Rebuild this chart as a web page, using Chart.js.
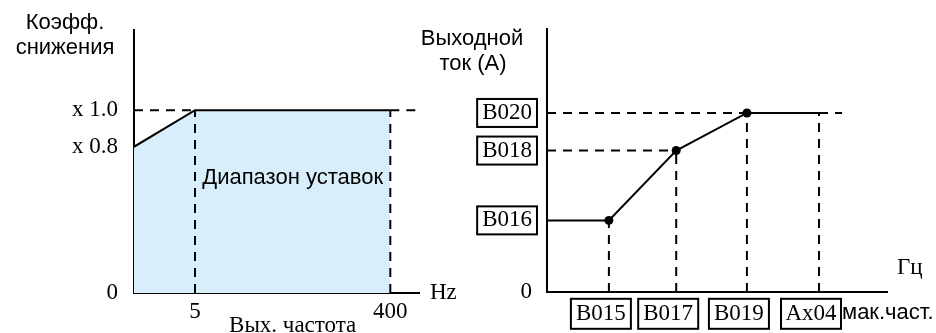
<!DOCTYPE html>
<html>
<head>
<meta charset="utf-8">
<script src="https://cdn.jsdelivr.net/npm/chart.js@4/dist/chart.umd.min.js"></script>
<style>
  body { margin: 0; background: #fff; }
  #wrap { position: relative; width: 936px; height: 333px; overflow: hidden; }
  canvas { position: absolute; top: 0; }
  #derate-chart { left: 0; }
  #current-chart { left: 400px; }
</style>
</head>
<body>
<div id="wrap">
  <canvas id="derate-chart" width="470" height="333"></canvas>
  <canvas id="current-chart" width="536" height="333"></canvas>
</div>
<script>
// ---- left chart data (x axis is schematic, not to scale) ----
var derateX = [0, 1, 4.2];          // start, 5 Hz, 400 Hz
var derateY = [0.8, 1.0, 1.0];
var derateXTicks = [1, 4.2];
var derateXLabels = ['5', '400'];
var derateYTicks = [0, 0.8, 1.0];
var derateYLabels = ['0', 'x 0.8', 'x 1.0'];

// ---- right chart data ----
var curX = [0, 0.91, 1.9, 2.94, 4.0];
var curY = [0.4, 0.4, 0.79, 1.0, 1.0];
var curXTicks = [0.91, 1.9, 2.94, 4.0];
var curXLabels = ['B015', 'B017', 'B019', 'Ax04'];
var curYTicks = [0, 0.4, 0.79, 1.0];
var curYLabels = ['0', 'B016', 'B018', 'B020'];

var SERIF = '"Liberation Serif", "Times New Roman", serif';
var SANS = '"Liberation Sans", Arial, sans-serif';
var SERIF_SIZE = 23;
var SANS_SIZE = 22;
var DASH = [9, 7];

function pts(xs, ys) {
    return xs.map(function (x, i) { return {x: x, y: ys[i]}; });
}
function guide(data) {
    return {data: data, borderColor: '#000', borderWidth: 2, borderDash: DASH,
            pointRadius: 0, fill: false, order: 0};
}
function fixTicks(list) {
    return function (scale) { scale.ticks = list.map(function (v) { return {value: v}; }); };
}
function tickText(pos, labels) {
    return function (v) { var i = pos.indexOf(v); return i < 0 ? '' : labels[i]; };
}

//////left chart: derating factor//////
var xMaxL = 4.67;
var leftGuides = [
    guide([{x: 0, y: derateY[1]}, {x: derateX[1], y: derateY[1]}]),
    guide([{x: derateX[2], y: derateY[2]}, {x: xMaxL, y: derateY[2]}]),
    guide([{x: derateX[1], y: 0}, {x: derateX[1], y: derateY[1]}]),
    guide([{x: derateX[2], y: 0}, {x: derateX[2], y: derateY[2]}])
];

var leftText = {
    id: 'leftText',
    afterDraw: function (chart) {
        var c = chart.ctx, xs = chart.scales.x, ys = chart.scales.y;
        var midX = (xs.getPixelForValue(derateX[1]) + xs.getPixelForValue(derateX[2])) / 2;
        c.save();
        c.fillStyle = '#000';
        c.textBaseline = 'middle';
        c.textAlign = 'center';
        c.font = SANS_SIZE + 'px ' + SANS;
        c.fillText('Коэфф.', 65, 23);
        c.fillText('снижения', 65, 48);
        c.fillText('Диапазон уставок', midX, ys.getPixelForValue(0.63));
        c.font = SERIF_SIZE + 'px ' + SERIF;
        c.fillText('Вых. частота', midX, 326);
        c.textAlign = 'left';
        c.fillText('Hz', xs.right + 11, ys.bottom);
        c.restore();
    }
};

new Chart(document.getElementById('derate-chart'), {
    type: 'line',
    data: {
        datasets: [{
            data: pts(derateX, derateY),
            borderColor: '#000',
            borderWidth: 2,
            backgroundColor: '#d9eefb',
            fill: 'origin',
            pointRadius: 0,
            tension: 0,
            order: 10
        }].concat(leftGuides)
    },
    options: {
        responsive: false,
        animation: false,
        layout: {padding: {top: 22, right: 51, left: 0, bottom: 0}},
        plugins: {legend: {display: false}, tooltip: {enabled: false}},
        scales: {
            x: {
                type: 'linear', min: 0, max: xMaxL,
                grid: {display: false, drawTicks: false},
                border: {display: true, color: '#000', width: 2},
                afterBuildTicks: fixTicks(derateXTicks),
                afterFit: function (s) { s.height = 40; },
                ticks: {callback: tickText(derateXTicks, derateXLabels), autoSkip: false,
                        maxRotation: 0, padding: 5, color: '#000',
                        font: {family: SERIF, size: SERIF_SIZE}}
            },
            y: {
                type: 'linear', min: 0, max: 1.44,
                grid: {display: false, drawTicks: false},
                border: {display: true, color: '#000', width: 2},
                afterBuildTicks: fixTicks(derateYTicks),
                afterFit: function (s) { s.width = 134; },
                ticks: {callback: tickText(derateYTicks, derateYLabels), autoSkip: false,
                        padding: 16, color: '#000', font: {family: SERIF, size: SERIF_SIZE}}
            }
        }
    },
    plugins: [leftText]
});

//////right chart: output current//////
var xMaxR = 5;
var rightGuides = [
    guide([{x: 0, y: curY[3]}, {x: curX[3], y: curY[3]}]),
    guide([{x: 0, y: curY[2]}, {x: curX[2], y: curY[2]}]),
    guide([{x: curX[4], y: curY[4]}, {x: 4.34, y: curY[4]}])
];
for (var i = 1; i < curX.length; i++) {
    rightGuides.push(guide([{x: curX[i], y: 0}, {x: curX[i], y: curY[i]}]));
}

var rightText = {
    id: 'rightText',
    afterDraw: function (chart) {
        var c = chart.ctx, xs = chart.scales.x, ys = chart.scales.y;
        c.save();
        c.strokeStyle = '#000';
        c.lineWidth = 2;
        c.font = SERIF_SIZE + 'px ' + SERIF;
        // boxes round the y tick labels
        curYTicks.forEach(function (v, i) {
            if (v === 0) return;
            var w = c.measureText(curYLabels[i]).width;
            var r = ys.right - ys.options.ticks.padding;
            var y = ys.getPixelForValue(v);
            c.strokeRect(r - w - 5, y - 14, w + 10, 28);
        });
        // boxes round the x tick labels (all the same width)
        var off = xs.options.ticks.labelOffset;
        var cy = xs.top + xs.options.ticks.padding + SERIF_SIZE * 1.2 / 2;
        var lastRight = 0;
        curXTicks.forEach(function (v) {
            var x = xs.getPixelForValue(v) + off;
            c.strokeRect(x - 30, cy - 15, 60, 30);
            lastRight = x + 30;
        });
        c.fillStyle = '#000';
        c.textBaseline = 'middle';
        c.textAlign = 'center';
        c.font = SANS_SIZE + 'px ' + SANS;
        c.fillText('Выходной', 72, 39);
        c.fillText('ток (A)', 73, 64);
        c.textAlign = 'left';
        c.fillText('мак.част.', lastRight + 1, 313);
        c.font = SERIF_SIZE + 'px ' + SERIF;
        c.fillText('Гц', 497, 268);
        c.restore();
    }
};

new Chart(document.getElementById('current-chart'), {
    type: 'line',
    data: {
        datasets: [{
            data: pts(curX, curY),
            borderColor: '#000',
            borderWidth: 2,
            backgroundColor: '#000',
            fill: false,
            tension: 0,
            pointRadius: curX.map(function (x, i) { return (i > 0 && i < 4) ? 4.5 : 0; }),
            pointBorderWidth: 0,
            order: 0
        }].concat(rightGuides)
    },
    options: {
        responsive: false,
        animation: false,
        layout: {padding: {top: 22, right: 49, left: 0, bottom: 0}},
        plugins: {legend: {display: false}, tooltip: {enabled: false}},
        scales: {
            x: {
                type: 'linear', min: 0, max: xMaxR,
                grid: {display: false, drawTicks: false},
                border: {display: true, color: '#000', width: 2},
                afterBuildTicks: fixTicks(curXTicks),
                afterFit: function (s) { s.height = 41; },
                ticks: {callback: tickText(curXTicks, curXLabels), autoSkip: false,
                        maxRotation: 0, padding: 8, labelOffset: -8,
                        color: '#000', font: {family: SERIF, size: SERIF_SIZE}}
            },
            y: {
                type: 'linear', min: 0, max: 1.47,
                grid: {display: false, drawTicks: false},
                border: {display: true, color: '#000', width: 2},
                afterBuildTicks: fixTicks(curYTicks),
                afterFit: function (s) { s.width = 147; },
                ticks: {callback: tickText(curYTicks, curYLabels), autoSkip: false,
                        padding: 15, color: '#000', font: {family: SERIF, size: SERIF_SIZE}}
            }
        }
    },
    plugins: [rightText]
});
</script>
</body>
</html>
